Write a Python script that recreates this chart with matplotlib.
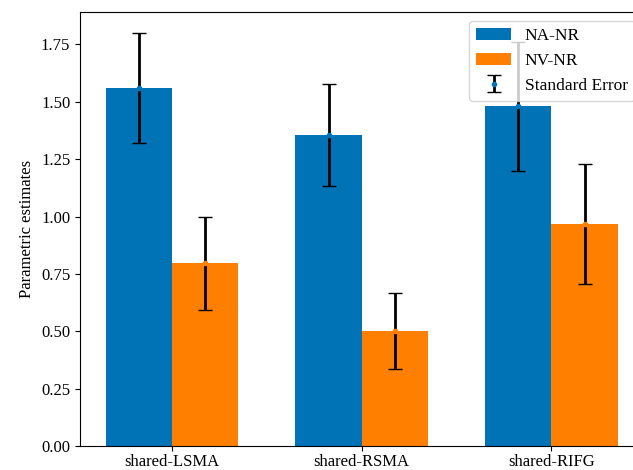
import numpy as np
import matplotlib
matplotlib.use('Agg')
import matplotlib.pyplot as plt

plt.rcParams['font.family'] = ['Liberation Serif', 'DejaVu Serif']
plt.rcParams['font.size'] = 12

regions = ['shared-LSMA', 'shared-RSMA', 'shared-RIFG']
na_nr = [1.56, 1.355, 1.48]
na_nr_se = [0.24, 0.222, 0.282]
nv_nr = [0.797, 0.50, 0.968]
nv_nr_se = [0.203, 0.165, 0.26]

blue = '#0072b6'
orange = '#ff7f00'
width = 0.35
x = np.arange(len(regions))

fig = plt.figure(figsize=(6.33, 4.70), dpi=100)
# axes runs slightly past the right edge of the figure
ax = fig.add_axes([0.1264, 0.051, 0.890, 0.923])

ax.bar(x - width / 2, na_nr, width, color=blue, label='NA-NR')
ax.bar(x + width / 2, nv_nr, width, color=orange, label='NV-NR')
ax.errorbar(x - width / 2, na_nr, yerr=na_nr_se, fmt='.', color=blue,
            ecolor='black', elinewidth=2, capsize=5, label='Standard Error')
ax.errorbar(x + width / 2, nv_nr, yerr=nv_nr_se, fmt='.', color=orange,
            ecolor='black', elinewidth=2, capsize=5)

ax.set_xticks(x)
ax.set_xticklabels(regions)
ax.tick_params(axis='x', pad=2.5)
ax.set_ylabel('Parametric estimates')
ax.legend(loc='upper right', fontsize=12.5)

fig.savefig('out.png', dpi=100)
